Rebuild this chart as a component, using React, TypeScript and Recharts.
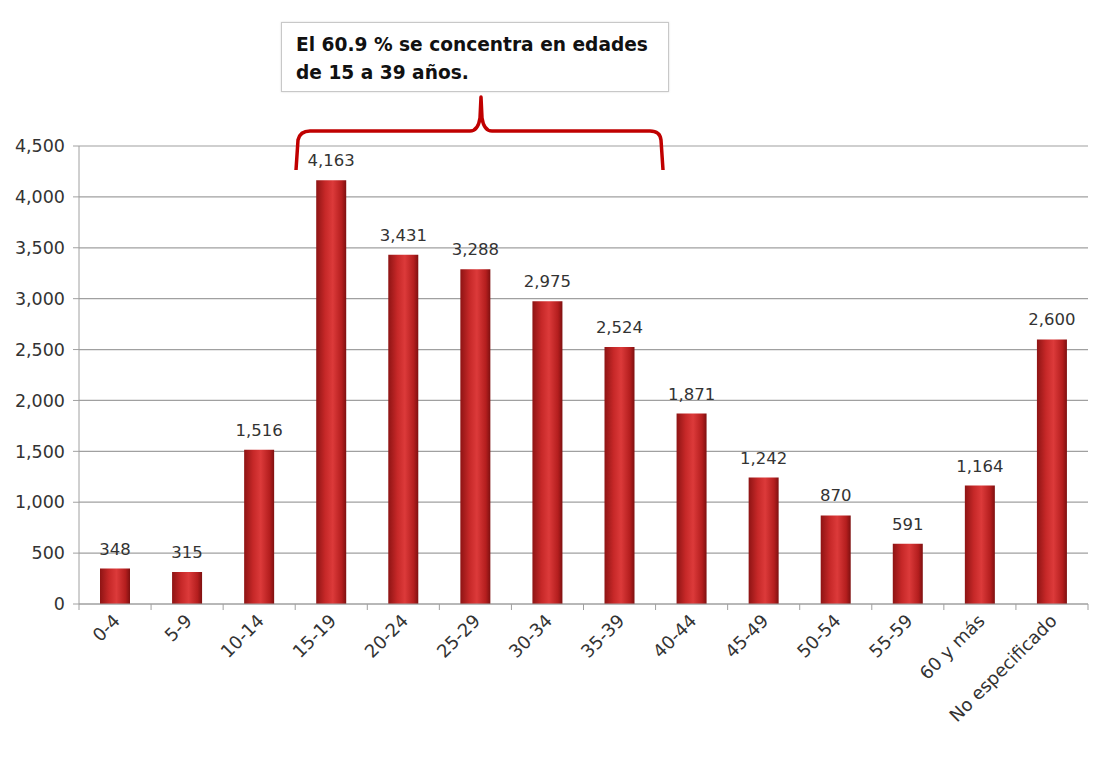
import React from 'react';
import { BarChart, Bar, XAxis, YAxis, CartesianGrid, LabelList } from 'recharts';

const ageGroups = ['0-4', '5-9', '10-14', '15-19', '20-24', '25-29', '30-34', '35-39', '40-44', '45-49', '50-54', '55-59', '60 y más', 'No especificado'];
const cases = [348, 315, 1516, 4163, 3431, 3288, 2975, 2524, 1871, 1242, 870, 591, 1164, 2600];
const yTicks = [0, 500, 1000, 1500, 2000, 2500, 3000, 3500, 4000, 4500];

const data = ageGroups.map((g, i) => ({ group: g, value: cases[i] }));

const FONT = '"DejaVu Sans", "Open Sans", sans-serif';
const fmt = (v: number) => v.toLocaleString('en-US');

const CHART_W = 1093;
const PLOT_LEFT = 79;
const PLOT_RIGHT = 5;
const BAND = (CHART_W - PLOT_LEFT - PLOT_RIGHT) / ageGroups.length;

// tick label + boundary tick marks (Excel style: ticks between categories)
const AngledTick = ({ x, y, payload, index }: any) => {
  const last = index === ageGroups.length - 1;
  return (
    <g>
      <line x1={x - BAND / 2} x2={x - BAND / 2} y1={y - 8} y2={y - 2} stroke="#a0a0a0" />
      {last && <line x1={x + BAND / 2} x2={x + BAND / 2} y1={y - 8} y2={y - 2} stroke="#a0a0a0" />}
      <text
        x={x + 6}
        y={y + 10}
        transform={`rotate(-45, ${x + 6}, ${y + 10})`}
        textAnchor="end"
        fontSize={18}
        fill="#333"
        fontFamily={FONT}
      >
        {payload.value}
      </text>
    </g>
  );
};

export default function App() {
  return (
    <div style={{ position: 'absolute', left: 0, top: 0, width: CHART_W, height: 766, background: '#fff' }}>
      <BarChart
        width={CHART_W}
        height={766}
        data={data}
        margin={{ top: 146, right: PLOT_RIGHT, left: 0, bottom: 42 }}
        barCategoryGap={21}
      >
        <defs>
          <linearGradient id="barGrad" x1="0" y1="0" x2="1" y2="0">
            <stop offset="0%" stopColor="#8e1414" />
            <stop offset="30%" stopColor="#c62828" />
            <stop offset="55%" stopColor="#dc3a3a" />
            <stop offset="85%" stopColor="#b41e1e" />
            <stop offset="100%" stopColor="#7e1010" />
          </linearGradient>
        </defs>
        <CartesianGrid vertical={false} stroke="#a0a0a0" strokeWidth={1.2} />
        <XAxis
          dataKey="group"
          height={120}
          interval={0}
          tick={<AngledTick />}
          tickLine={false}
          axisLine={{ stroke: '#a0a0a0' }}
          tickSize={6}
        />
        <YAxis
          width={PLOT_LEFT}
          domain={[0, 4500]}
          ticks={yTicks}
          tickFormatter={fmt}
          tick={{ fontSize: 17.5, fill: '#333', fontFamily: FONT }}
          tickLine={{ stroke: '#a0a0a0' }}
          axisLine={{ stroke: '#a0a0a0' }}
          tickSize={6}
          tickMargin={8}
        />
        <Bar dataKey="value" fill="url(#barGrad)" isAnimationActive={false}>
          <LabelList
            dataKey="value"
            position="top"
            offset={14}
            formatter={(v: any) => fmt(Number(v))}
            style={{ fontSize: 16.5, fill: '#333', fontFamily: FONT }}
          />
        </Bar>
      </BarChart>

      <svg
        width={CHART_W}
        height={766}
        style={{ position: 'absolute', left: 0, top: 0, pointerEvents: 'none' }}
      >
        <path
          d="M296,170 L298,140 Q300,131 310,131 L470,131 Q478,131 480,118 L481,97 L482,118 Q484,131 492,131 L650,131 Q660,131 661,140 L663,170"
          fill="none"
          stroke="#c00000"
          strokeWidth={3.5}
          strokeLinejoin="round"
        />
      </svg>

      <div
        style={{
          position: 'absolute',
          left: 281,
          top: 22,
          width: 372,
          height: 54,
          padding: '8px 0 6px 14px',
          border: '1px solid #c8c8c8',
          boxShadow: '0 0 2px rgba(0,0,0,0.15)',
          background: '#fff',
          fontFamily: FONT,
          fontWeight: 'bold',
          fontSize: 18.6,
          lineHeight: '28px',
          color: '#111',
        }}
      >
        El 60.9 % se concentra en edades
        <br />
        de 15 a 39 años.
      </div>
    </div>
  );
}
